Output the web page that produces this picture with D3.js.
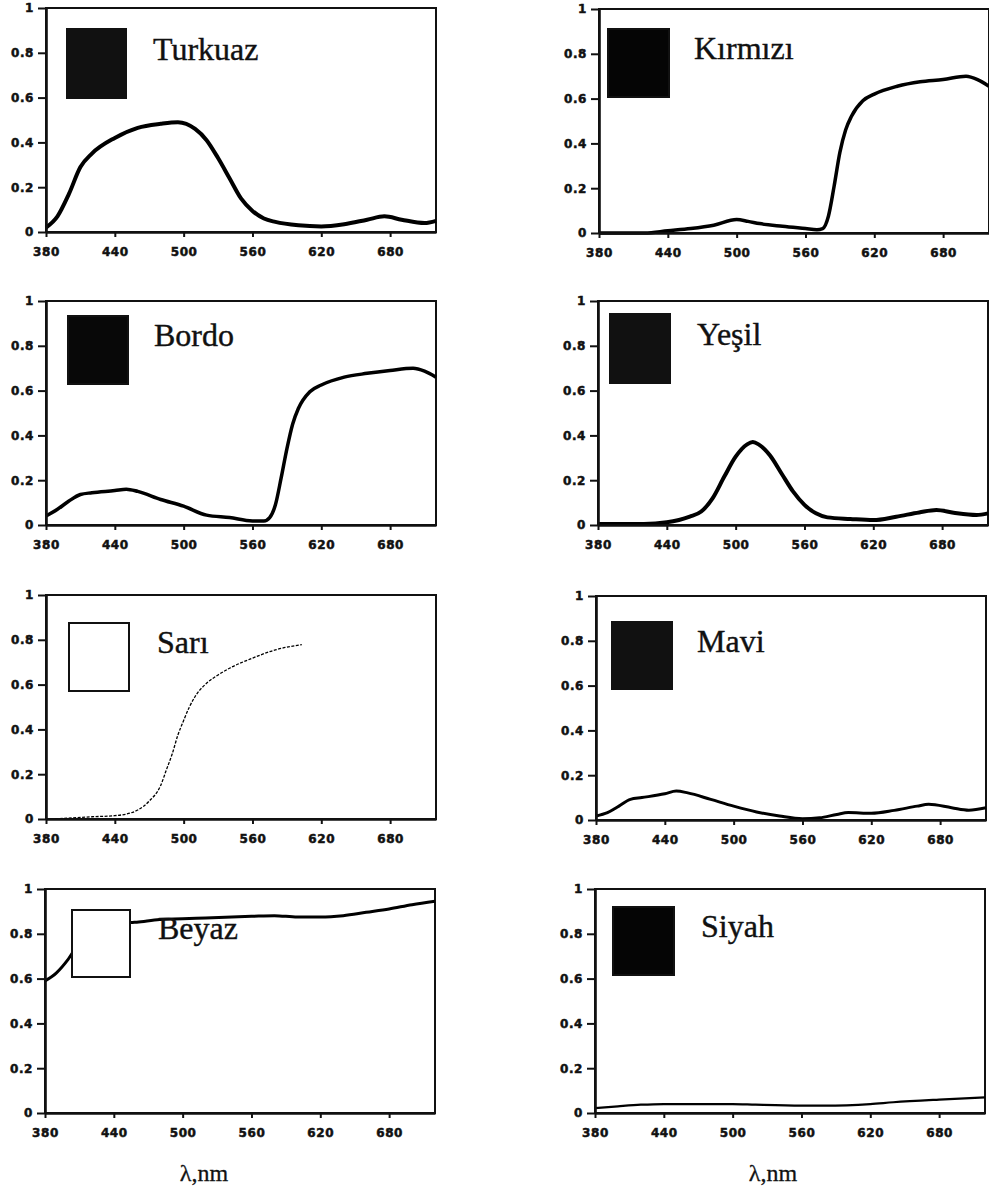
<!DOCTYPE html>
<html>
<head>
<meta charset="utf-8">
<script src="https://cdn.jsdelivr.net/npm/d3@7"></script>
<style>
  body { margin: 0; background: #fff; }
  svg { display: block; }
  .tick text { font-family: "DejaVu Sans", sans-serif; font-weight: bold; font-size: 12px; fill: #111; stroke: #111; stroke-width: 0.5px; }
  .name { font-family: "Liberation Serif", "Times New Roman", serif; font-size: 32px; fill: #111; stroke: #111; stroke-width: 0.4px; }
  .unit { font-family: "Liberation Serif", "Times New Roman", serif; font-size: 24px; fill: #111; stroke: #111; stroke-width: 0.3px; }
</style>
</head>
<body>
<div id="chart"></div>
<script>
// spectra, [wavelength nm, reflectance]
var categories = ["Turkuaz", "Kırmızı", "Bordo", "Yeşil", "Sarı", "Mavi", "Beyaz", "Siyah"];
var xTicks = [380, 440, 500, 560, 620, 680];
var yTicks = [0, 0.2, 0.4, 0.6, 0.8, 1];
var yTickLabels = ["0", "0.2", "0.4", "0.6", "0.8", "1"];

var turkuaz = [[380,0.02],[390,0.07],[400,0.17],[410,0.29],[420,0.35],[440,0.42],[460,0.465],[480,0.483],[495,0.49],[510,0.46],[520,0.41],[530,0.33],[540,0.24],[550,0.15],[560,0.094],[570,0.06],[580,0.045],[600,0.03],[620,0.025],[640,0.035],[660,0.055],[675,0.07],[690,0.055],[710,0.04],[720,0.05]];
var kirmizi = [[380,0.0],[420,0.0],[440,0.01],[460,0.02],[480,0.035],[500,0.06],[510,0.052],[520,0.042],[540,0.03],[560,0.02],[570,0.015],[575,0.02],[580,0.075],[585,0.21],[590,0.36],[595,0.46],[600,0.52],[610,0.59],[620,0.62],[640,0.655],[660,0.675],[680,0.685],[700,0.70],[710,0.685],[720,0.655]];
var bordo = [[380,0.04],[390,0.07],[400,0.107],[410,0.136],[420,0.144],[440,0.154],[450,0.16],[460,0.15],[480,0.114],[500,0.084],[520,0.044],[540,0.033],[560,0.018],[570,0.018],[575,0.033],[580,0.09],[585,0.21],[590,0.34],[595,0.45],[600,0.52],[610,0.595],[620,0.625],[640,0.66],[660,0.677],[680,0.69],[700,0.70],[710,0.687],[720,0.66]];
var yesil = [[380,0.005],[420,0.005],[440,0.012],[460,0.037],[470,0.06],[480,0.12],[490,0.215],[500,0.305],[510,0.36],[515,0.37],[520,0.36],[530,0.31],[540,0.23],[550,0.15],[560,0.09],[570,0.052],[580,0.034],[600,0.027],[620,0.022],[640,0.037],[660,0.056],[675,0.067],[690,0.055],[710,0.045],[720,0.052]];
var sari = [[388,0.0],[420,0.01],[440,0.015],[450,0.022],[460,0.04],[470,0.08],[480,0.15],[485,0.22],[490,0.29],[495,0.375],[500,0.44],[505,0.5],[510,0.547],[520,0.606],[530,0.643],[540,0.673],[560,0.718],[580,0.755],[603,0.778]];
var mavi = [[380,0.018],[390,0.033],[400,0.062],[410,0.092],[420,0.10],[440,0.117],[450,0.129],[460,0.121],[480,0.092],[500,0.062],[520,0.036],[540,0.018],[560,0.006],[575,0.01],[590,0.025],[600,0.033],[620,0.03],[640,0.043],[660,0.062],[670,0.07],[690,0.055],[705,0.044],[720,0.055]];
var beyaz = [[380,0.59],[390,0.626],[400,0.685],[410,0.76],[420,0.80],[440,0.835],[455,0.85],[460,0.852],[480,0.864],[500,0.867],[520,0.871],[560,0.878],[580,0.881],[600,0.875],[620,0.875],[640,0.881],[660,0.896],[680,0.911],[700,0.93],[720,0.945]];
var siyah = [[380,0.022],[400,0.03],[420,0.037],[440,0.04],[500,0.04],[520,0.037],[560,0.033],[580,0.033],[620,0.04],[640,0.048],[680,0.06],[720,0.07]];

var series = [turkuaz, kirmizi, bordo, yesil, sari, mavi, beyaz, siyah];

// panel placement on the page (pixels)
var layout = [
  {x0: 46,  top: 8,   swatch: "#111", box: [21, 21, 59, 69], label: [107, 52], lw: 4},
  {x0: 599, top: 9,   swatch: "#050505", box: [9, 20, 61, 68], label: [95, 50], lw: 3.5},
  {x0: 46,  top: 301, swatch: "#080808", box: [22, 15, 60, 68], label: [108, 45], lw: 3.5},
  {x0: 598, top: 301, swatch: "#111", box: [12, 13, 60, 69], label: [99, 44], lw: 4},
  {x0: 46,  top: 595, swatch: "#fff", box: [23, 28, 60, 68], label: [111, 58], lw: 1.3, dash: "3,1.5"},
  {x0: 596, top: 596, swatch: "#111", box: [16, 26, 60, 67], label: [101, 56], lw: 3},
  {x0: 45,  top: 889, swatch: "#fff", box: [27, 21, 58, 67], label: [113, 50], lw: 3},
  {x0: 595, top: 889, swatch: "#050505", box: [18, 18, 61, 68], label: [106, 48], lw: 2.2}
];
var plotW = 390, plotH = 224;

var svg = d3.select("#chart").append("svg")
    .attr("width", 989)
    .attr("height", 1193);

var line = d3.line().curve(d3.curveMonotoneX);

categories.forEach(function(name, i) {
  var p = layout[i];
  var x = d3.scaleLinear().domain([380, 720]).range([0, plotW]);
  var y = d3.scaleLinear().domain([0, 1]).range([plotH, 0]);
  var g = svg.append("g").attr("transform", "translate(" + p.x0 + "," + p.top + ")");

  line.x(function(d) { return x(d[0]); }).y(function(d) { return y(d[1]); });

  //frame
  g.append("rect")
    .attr("width", plotW).attr("height", plotH)
    .attr("fill", "none").attr("stroke", "#111").attr("stroke-width", 2);

  g.append("path")
    .datum(series[i])
    .attr("d", line)
    .attr("fill", "none")
    .attr("stroke", "#000")
    .attr("stroke-width", p.lw)
    .attr("stroke-linejoin", "round")
    .attr("stroke-dasharray", p.dash || null);

  //colour swatch
  g.append("rect")
    .attr("x", p.box[0]).attr("y", p.box[1])
    .attr("width", p.box[2]).attr("height", p.box[3])
    .attr("fill", p.swatch)
    .attr("stroke", "#111").attr("stroke-width", 2);

  g.append("text").attr("class", "name")
    .attr("x", p.label[0]).attr("y", p.label[1])
    .text(name);

  var xAxis = g.append("g")
    .attr("transform", "translate(0," + plotH + ")")
    .call(d3.axisBottom(x).tickValues(xTicks).tickSize(5).tickPadding(10).tickSizeOuter(0));
  var yAxis = g.append("g")
    .call(d3.axisLeft(y).tickValues(yTicks).tickSize(8).tickPadding(4).tickSizeOuter(0)
      .tickFormat(function(d, k) { return yTickLabels[k]; }));

  [xAxis, yAxis].forEach(function(a) {
    a.select(".domain").attr("stroke", "#111").attr("stroke-width", 2.6);
    a.selectAll(".tick line").attr("stroke", "#111").attr("stroke-width", 2);
    a.selectAll(".tick text").attr("letter-spacing", "0.6px");
  });
});

// x axis unit under each column
svg.append("text").attr("class", "unit").attr("x", 204).attr("y", 1181)
  .attr("text-anchor", "middle").text("λ,nm");
svg.append("text").attr("class", "unit").attr("x", 773).attr("y", 1181)
  .attr("text-anchor", "middle").text("λ,nm");
</script>
</body>
</html>
